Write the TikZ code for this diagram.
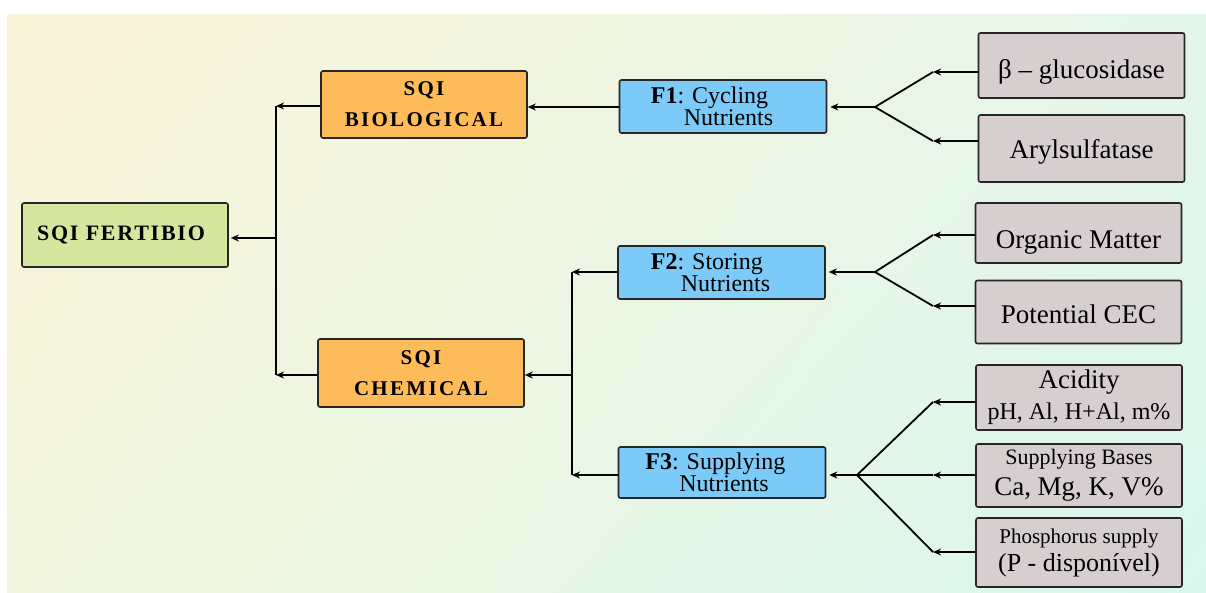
\documentclass[tikz,border=0pt]{standalone}
\usepackage{fontspec}
\setmainfont{Liberation Serif}
\usepackage{tikz}
\usetikzlibrary{arrows.meta, positioning, calc, shadings}
\definecolor{fertgreen}{HTML}{D5E79F}
\definecolor{sqiorange}{HTML}{FDBB5A}
\definecolor{factblue}{HTML}{7CCAF8}
\definecolor{indgrey}{HTML}{D6CECF}
\definecolor{bgcream}{HTML}{FCF4D9}
\definecolor{bgmintup}{HTML}{E4F6E9}
\definecolor{bglimelow}{HTML}{F1F5DE}
\definecolor{bgmint}{HTML}{DAF7EE}
\newcommand{\spaced}[1]{\bfseries\addfontfeature{LetterSpace=#1}}

\begin{document}
\begin{tikzpicture}[
    x=1pt, y=-1pt,
    box/.style={rectangle, draw=black!85, line width=1.6pt, rounded corners=2pt,
        inner sep=0pt, align=center},
    fert/.style={box, fill=fertgreen, minimum width=206pt, minimum height=64pt,
        font=\fontsize{22}{26}\selectfont\spaced{8}},
    sqi/.style={box, fill=sqiorange, minimum width=206pt, minimum height=67pt,
        font=\fontsize{21}{31}\selectfont\spaced{11}},
    factor/.style={box, fill=factblue, minimum width=207pt, minimum height=53pt,
        align=left, font=\fontsize{24}{22}\selectfont},
    indic/.style={box, fill=indgrey, minimum width=206pt, minimum height=65pt,
        font=\fontsize{27}{31}\selectfont},
    arr/.style={-{Stealth[length=8pt, width=7pt]}, line width=1.8pt},
    fork/.style={line width=1.8pt}
]

% background
\useasboundingbox (0,0) rectangle (1206,592);
\shade[upper left=bgcream, upper right=bgmintup, lower left=bglimelow,
    lower right=bgmint] (7,14) rectangle (1206,592);

% Root
\node[fert] (fert) at (125,235) {SQI FERTIBIO\hspace*{8pt}};

% SQI groups
\node[sqi] (bio) at (424,104.5) {SQI\\BIOLOGICAL};
\node[sqi, minimum height=68pt] (chem) at (421,373) {SQI\\CHEMICAL};

% Factors
\node[factor] (f1) at (723,106.5) {\textbf{F1}: Cycling\\\hspace*{33pt}Nutrients\hspace*{22pt}};
\node[factor] (f2) at (721.5,272.5) {\textbf{F2}: Storing\\\hspace*{30pt}Nutrients\hspace*{22pt}};
\node[factor, minimum height=51pt] (f3) at (722,472.5) {\textbf{F3}: Supplying\\\hspace*{34pt}Nutrients\hspace*{30pt}};

% Indicators
\node[indic, text height=26pt, text depth=0pt] (glu) at (1081.5,65.5) {β – glucosidase};
\node[indic, minimum height=67pt, text height=19pt, text depth=0pt] (aryl) at (1081.5,148.5) {Arylsulfatase};
\node[indic, minimum height=60pt, text height=30pt, text depth=0pt] (om) at (1078.5,233) {Organic Matter};
\node[indic, minimum height=63pt, text height=22pt, text depth=0pt] (cec) at (1078.5,312) {Potential CEC};
\node[indic] (acid) at (1079,397.5)
    {Acidity\\{\fontsize{24}{31}\selectfont pH, Al, H+Al, m\%}};
\node[indic, minimum height=63pt] (bases) at (1079,475.5)
    {{\fontsize{22}{31}\selectfont Supplying Bases}\\Ca, Mg, K, V\%};
\node[indic, minimum height=69pt] (phos) at (1079,552.5)
    {{\fontsize{21}{28}\selectfont Phosphorus supply}\\[-3pt]{\fontsize{26}{28}\selectfont (P - disponível)}};

% Bus points
\coordinate (busL) at (276,238);
\coordinate (busR) at (572,375);
\coordinate (v1) at (875,107);
\coordinate (t1a) at (933,72);
\coordinate (t1b) at (933,141);
\coordinate (v2) at (875,272);
\coordinate (t2a) at (933,235);
\coordinate (t2b) at (933,306);
\coordinate (v3) at (857,475);
\coordinate (t3a) at (933,402);
\coordinate (t3b) at (933,475);
\coordinate (t3c) at (933,552);

% SQI -> FERTIBIO
\draw[fork] (276,106) -- (276,375);
\draw[arr] (bio.west |- 0,106) -- (276,106);
\draw[arr] (chem.west |- 0,375) -- (276,375);
\draw[arr] (busL) -- ([xshift=2pt]fert.east |- busL);

% Factors -> SQI
\draw[arr] (f1.west |- 0,107) -- (bio.east |- 0,107);
\draw[fork] (busR |- 0,272) -- (busR |- 0,475);
\draw[arr] (f2.west |- 0,272) -- (busR |- 0,272);
\draw[arr] (f3.west |- 0,475) -- (busR |- 0,475);
\draw[arr] (busR) -- (chem.east |- busR);

% Indicators -> F1
\draw[fork] (t1a) -- (v1) -- (t1b);
\draw[arr, shorten >=3pt] (v1) -- (f1.east |- v1);
\draw[arr] (t1a -| glu.west) -- (t1a);
\draw[arr] (t1b -| aryl.west) -- (t1b);

% Indicators -> F2
\draw[fork] (t2a) -- (v2) -- (t2b);
\draw[arr, shorten >=3pt] (v2) -- (f2.east |- v2);
\draw[arr] (t2a -| om.west) -- (t2a);
\draw[arr] (t2b -| cec.west) -- (t2b);

% Indicators -> F3
\draw[fork] (t3a) -- (v3) -- (t3c);
\draw[fork] (v3) -- (t3b);
\draw[arr, shorten >=3pt] (v3) -- (f3.east |- v3);
\draw[arr] (t3a -| acid.west) -- (t3a);
\draw[arr] (t3b -| bases.west) -- (t3b);
\draw[arr] (t3c -| phos.west) -- (t3c);

\end{tikzpicture}
\end{document}
